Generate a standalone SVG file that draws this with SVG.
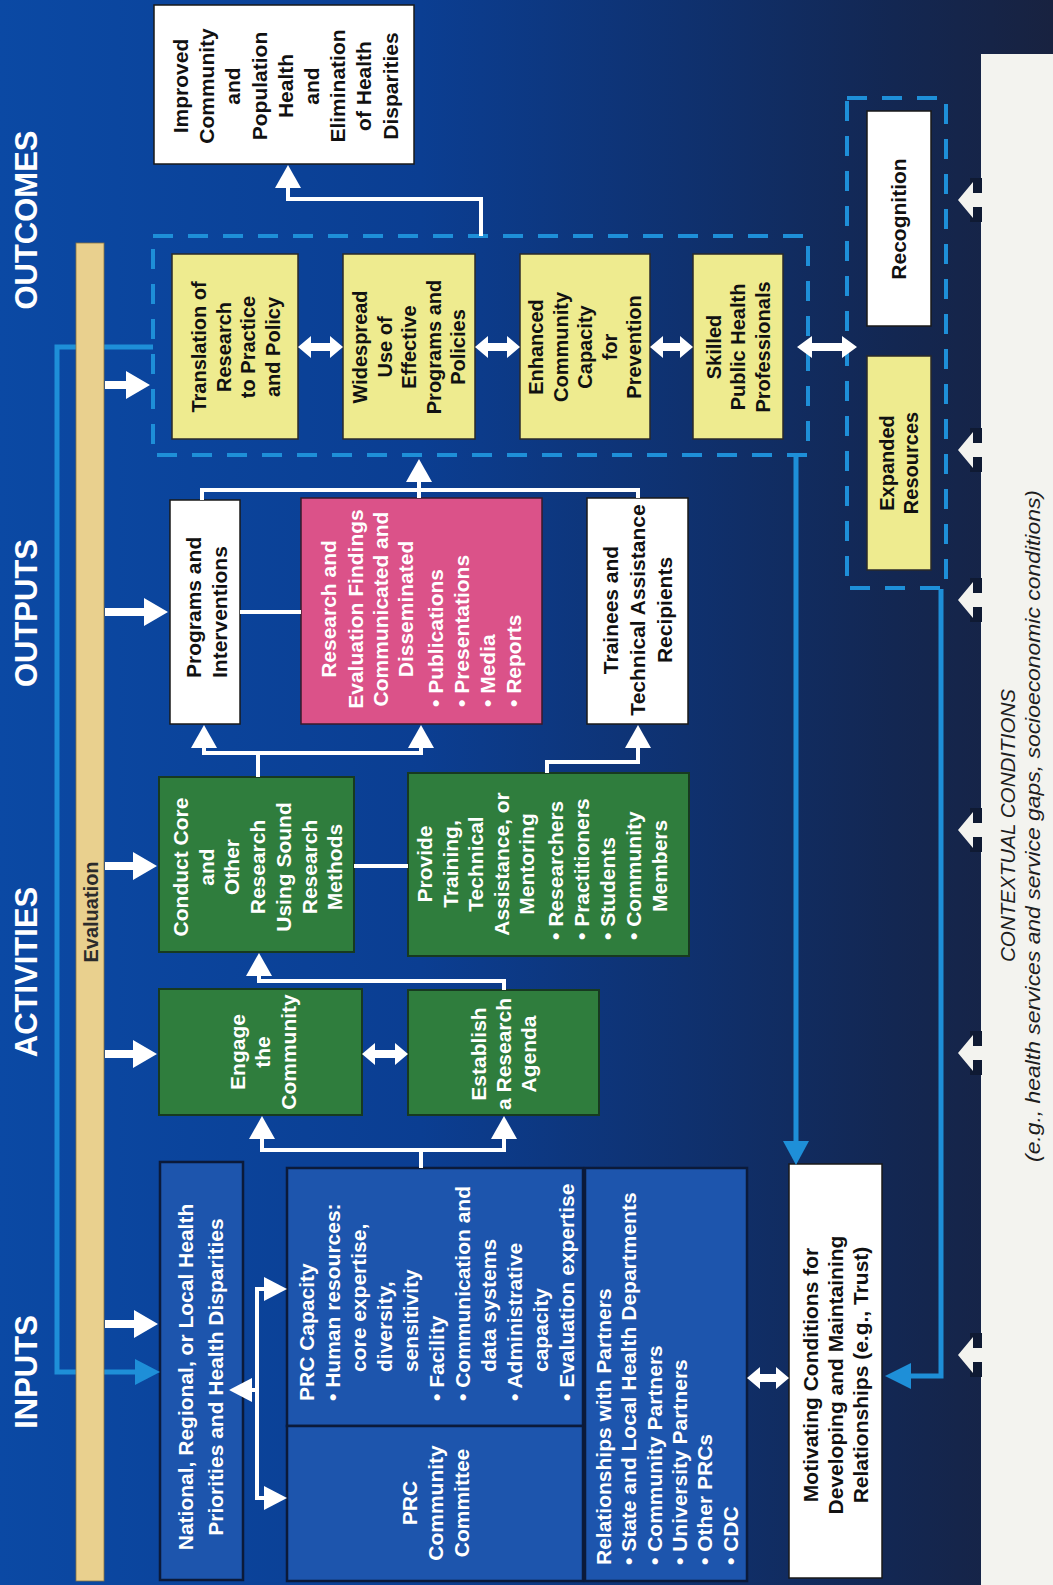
<svg xmlns="http://www.w3.org/2000/svg" width="1053" height="1585" viewBox="0 0 1053 1585">
<defs>
<linearGradient id="bg" x1="0" y1="0" x2="1" y2="0">
<stop offset="0" stop-color="#0b49a4"/>
<stop offset="0.4" stop-color="#0b3e92"/>
<stop offset="0.65" stop-color="#0f316f"/>
<stop offset="0.85" stop-color="#132752"/>
<stop offset="1" stop-color="#182240"/>
</linearGradient>
<style>
.b{font-family:"Liberation Sans",Arial,Helvetica,sans-serif;font-weight:bold;font-size:21px}
.s20{font-size:20px}
.w{fill:#fff}
.k{fill:#111}
.h{font-family:"Liberation Sans",Arial,sans-serif;font-weight:bold;font-size:31px;fill:#fff}
.wb{fill:#fff;stroke:#1a1a1a;stroke-width:1.5}
.yb{fill:#eeeb8f;stroke:#2a2a2a;stroke-width:1.5}
.gb{fill:#2f7d3d;stroke:#173a20;stroke-width:2}
.ib{fill:#1d55ad;stroke:#0b1a3a;stroke-width:2.5}
.pb{fill:#db5289;stroke:#3a1a2a;stroke-width:1.5}
.dash{fill:none;stroke:#1e8fd8;stroke-width:4;stroke-dasharray:20 15}
.ln{fill:none;stroke:#fff;stroke-width:4}
.bl{fill:none;stroke:#1e8fd8;stroke-width:5}
.ah{fill:#fff}
.bah{fill:#1e8fd8}
.ctx{font-family:"Liberation Sans",Arial,sans-serif;font-style:italic;font-size:21px;fill:#1e1e1e}
</style>
</defs>
<rect x="0" y="0" width="1053" height="1585" fill="url(#bg)"/>

<g id="headers">
<text class="h" text-anchor="middle" transform="translate(0,220) rotate(-90)" x="0" y="37">OUTCOMES</text>
<text class="h" text-anchor="middle" transform="translate(0,613) rotate(-90)" x="0" y="37">OUTPUTS</text>
<text class="h" text-anchor="middle" transform="translate(0,972) rotate(-90)" x="0" y="37">ACTIVITIES</text>
<text class="h" text-anchor="middle" transform="translate(0,1372) rotate(-90)" x="0" y="37">INPUTS</text>
</g>

<g id="context">
<rect x="981" y="54" width="72" height="1531" fill="#f3f3ef"/>
<g fill="#0f1a33">
<rect x="970" y="178" width="12" height="44"/>
<rect x="970" y="428" width="12" height="44"/>
<rect x="970" y="578" width="12" height="44"/>
<rect x="970" y="808" width="12" height="44"/>
<rect x="970" y="1031" width="12" height="44"/>
<rect x="970" y="1333" width="12" height="44"/>
</g>
<g fill="#f3f3ef">
<polygon points="958,200 973,182 973,193 983,193 983,207 973,207 973,218"/>
<polygon points="958,450 973,432 973,443 983,443 983,457 973,457 973,468"/>
<polygon points="958,600 973,582 973,593 983,593 983,607 973,607 973,618"/>
<polygon points="958,830 973,812 973,823 983,823 983,837 973,837 973,848"/>
<polygon points="958,1053 973,1035 973,1046 983,1046 983,1060 973,1060 973,1071"/>
<polygon points="958,1355 973,1337 973,1348 983,1348 983,1362 973,1362 973,1373"/>
</g>
<text class="ctx" transform="translate(0,826) rotate(-90)" x="-136" y="1015" textLength="273" lengthAdjust="spacingAndGlyphs">CONTEXTUAL CONDITIONS</text>
<text class="ctx" transform="translate(0,826) rotate(-90)" x="-336" y="1040" textLength="672" lengthAdjust="spacingAndGlyphs">(e.g., health services and service gaps, socioeconomic conditions)</text>
</g>

<g id="outcomes-box">
<rect class="dash" x="153" y="236" width="655" height="219"/>
</g>
<g id="outer-box">
<rect class="dash" x="847" y="98" width="99" height="490"/>
</g>

<g id="improved">
<rect class="wb" x="154" y="5" width="260" height="159"/>
<text class="b k" text-anchor="middle" transform="translate(0,86) rotate(-90)">
<tspan x="0" y="188">Improved</tspan><tspan x="0" y="214">Community</tspan><tspan x="0" y="240">and</tspan><tspan x="0" y="267">Population</tspan><tspan x="0" y="293">Health</tspan><tspan x="0" y="319">and</tspan><tspan x="0" y="345">Elimination</tspan><tspan x="0" y="371">of Health</tspan><tspan x="0" y="398">Disparities</tspan>
</text>
</g>

<g id="translation">
<rect class="yb" x="172" y="254" width="126" height="185"/>
<text class="b s20 k" text-anchor="middle" transform="translate(0,347) rotate(-90)">
<tspan x="0" y="206">Translation of</tspan><tspan x="0" y="230.5">Research</tspan><tspan x="0" y="255">to Practice</tspan><tspan x="0" y="279.5">and Policy</tspan>
</text>
</g>
<g id="widespread">
<rect class="yb" x="343" y="254" width="132" height="185"/>
<text class="b s20 k" text-anchor="middle" transform="translate(0,347) rotate(-90)">
<tspan x="0" y="367">Widespread</tspan><tspan x="0" y="391.5">Use of</tspan><tspan x="0" y="416">Effective</tspan><tspan x="0" y="440.5">Programs and</tspan><tspan x="0" y="465">Policies</tspan>
</text>
</g>
<g id="enhanced">
<rect class="yb" x="520" y="254" width="130" height="185"/>
<text class="b s20 k" text-anchor="middle" transform="translate(0,347) rotate(-90)">
<tspan x="0" y="543">Enhanced</tspan><tspan x="0" y="567.5">Community</tspan><tspan x="0" y="592">Capacity</tspan><tspan x="0" y="616.5">for</tspan><tspan x="0" y="641">Prevention</tspan>
</text>
</g>
<g id="skilled">
<rect class="yb" x="693" y="254" width="90" height="185"/>
<text class="b s20 k" text-anchor="middle" transform="translate(0,347) rotate(-90)">
<tspan x="0" y="720.5">Skilled</tspan><tspan x="0" y="745">Public Health</tspan><tspan x="0" y="769.5">Professionals</tspan>
</text>
</g>

<g id="recognition">
<rect class="wb" x="867" y="111" width="64" height="215"/>
<text class="b k" text-anchor="middle" transform="translate(0,219) rotate(-90)" x="0" y="906">Recognition</text>
</g>
<g id="expanded">
<rect class="yb" x="867" y="356" width="64" height="214"/>
<text class="b s20 k" text-anchor="middle" transform="translate(0,463) rotate(-90)">
<tspan x="0" y="894">Expanded</tspan><tspan x="0" y="918">Resources</tspan>
</text>
</g>

<g id="programs">
<rect class="wb" x="170" y="500" width="70" height="224"/>
<text class="b k" transform="translate(0,678) rotate(-90)">
<tspan x="0" y="201">Programs and</tspan><tspan x="0" y="227">Interventions</tspan>
</text>
</g>
<g id="research-findings">
<rect class="pb" x="301" y="498" width="241" height="226"/>
<text class="b w" text-anchor="middle" transform="translate(0,609) rotate(-90)">
<tspan x="0" y="336">Research and</tspan><tspan x="0" y="362.5">Evaluation Findings</tspan><tspan x="0" y="388">Communicated and</tspan><tspan x="0" y="413">Disseminated</tspan>
</text>
<text class="b w" transform="translate(0,707) rotate(-90)">
<tspan x="0" y="443">• Publications</tspan><tspan x="0" y="469">• Presentations</tspan><tspan x="0" y="495">• Media</tspan><tspan x="0" y="521">• Reports</tspan>
</text>
</g>
<g id="trainees">
<rect class="wb" x="587" y="498" width="101" height="226"/>
<text class="b k" text-anchor="middle" transform="translate(0,610) rotate(-90)">
<tspan x="0" y="618">Trainees and</tspan><tspan x="0" y="645">Technical Assistance</tspan><tspan x="0" y="672">Recipients</tspan>
</text>
</g>

<g id="conduct">
<rect class="gb" x="159" y="777" width="195" height="175"/>
<text class="b w" text-anchor="middle" transform="translate(0,867) rotate(-90)">
<tspan x="0" y="188">Conduct Core</tspan><tspan x="0" y="213.7">and</tspan><tspan x="0" y="239.4">Other</tspan><tspan x="0" y="265.1">Research</tspan><tspan x="0" y="290.8">Using Sound</tspan><tspan x="0" y="316.5">Research</tspan><tspan x="0" y="342.2">Methods</tspan>
</text>
</g>
<g id="provide">
<rect class="gb" x="408" y="773" width="281" height="183"/>
<text class="b w" text-anchor="middle" transform="translate(0,864) rotate(-90)">
<tspan x="0" y="432">Provide</tspan><tspan x="0" y="457.5">Training,</tspan><tspan x="0" y="483">Technical</tspan><tspan x="0" y="508.5">Assistance, or</tspan><tspan x="0" y="534">Mentoring</tspan>
</text>
<text class="b w" transform="translate(0,940) rotate(-90)">
<tspan x="0" y="563">• Researchers</tspan><tspan x="0" y="589">• Practitioners</tspan><tspan x="0" y="615">• Students</tspan><tspan x="0" y="641">• Community</tspan><tspan x="28" y="667">Members</tspan>
</text>
</g>
<g id="engage">
<rect class="gb" x="159" y="989" width="203" height="126"/>
<text class="b w" text-anchor="middle" transform="translate(0,1052) rotate(-90)">
<tspan x="0" y="245">Engage</tspan><tspan x="0" y="270">the</tspan><tspan x="0" y="296">Community</tspan>
</text>
</g>
<g id="establish">
<rect class="gb" x="408" y="990" width="191" height="125"/>
<text class="b w" text-anchor="middle" transform="translate(0,1054) rotate(-90)">
<tspan x="0" y="486">Establish</tspan><tspan x="0" y="511">a Research</tspan><tspan x="0" y="536">Agenda</tspan>
</text>
</g>

<g id="national">
<rect class="ib" x="160" y="1162" width="83" height="418"/>
<text class="b w" text-anchor="middle" transform="translate(0,1377) rotate(-90)">
<tspan x="0" y="193">National, Regional, or Local Health</tspan><tspan x="0" y="223">Priorities and Health Disparities</tspan>
</text>
</g>
<g id="prc-capacity">
<rect class="ib" x="287" y="1168" width="296" height="258"/>
<text class="b w" transform="translate(0,1401) rotate(-90)">
<tspan x="0" y="314">PRC Capacity</tspan><tspan x="0" y="340">• Human resources:</tspan><tspan x="29" y="366">core expertise,</tspan><tspan x="29" y="392">diversity,</tspan><tspan x="29" y="418">sensitivity</tspan><tspan x="0" y="444">• Facility</tspan><tspan x="0" y="470">• Communication and</tspan><tspan x="29" y="496">data systems</tspan><tspan x="0" y="522">• Administrative</tspan><tspan x="29" y="548">capacity</tspan><tspan x="0" y="574">• Evaluation expertise</tspan>
</text>
</g>
<g id="prc-committee">
<rect class="ib" x="287" y="1426" width="296" height="155"/>
<text class="b w" text-anchor="middle" transform="translate(0,1503) rotate(-90)">
<tspan x="0" y="417">PRC</tspan><tspan x="0" y="443">Community</tspan><tspan x="0" y="469">Committee</tspan>
</text>
</g>
<g id="relationships">
<rect class="ib" x="585" y="1168" width="162" height="413"/>
<text class="b w" transform="translate(0,1565) rotate(-90)">
<tspan x="0" y="611">Relationships with Partners</tspan><tspan x="0" y="636">• State and Local Health Departments</tspan><tspan x="0" y="662">• Community Partners</tspan><tspan x="0" y="687">• University Partners</tspan><tspan x="0" y="712">• Other PRCs</tspan><tspan x="0" y="738">• CDC</tspan>
</text>
</g>
<g id="motivating">
<rect class="wb" x="789" y="1164" width="93" height="414"/>
<text class="b k" text-anchor="middle" transform="translate(0,1375) rotate(-90)">
<tspan x="0" y="818">Motivating Conditions for</tspan><tspan x="0" y="843">Developing and Maintaining</tspan><tspan x="0" y="868">Relationships (e.g., Trust)</tspan>
</text>
</g>

<g id="connectors">
<polyline class="ln" points="481,236 481,199 288,199 288,186"/>
<polygon class="ah" points="288,165 275,188 301,188"/>
<polygon class="ah" points="298,347 311,336 311,343 330,343 330,336 343,347 330,358 330,351 311,351 311,358"/>
<polygon class="ah" points="475,347 488,336 488,343 507,343 507,336 520,347 507,358 507,351 488,351 488,358"/>
<polygon class="ah" points="650,347 663,336 663,343 680,343 680,336 693,347 680,358 680,351 663,351 663,358"/>
<polygon class="ah" points="797,347 812,336 812,343 842,343 842,336 857,347 842,358 842,351 812,351 812,358"/>
<polyline class="ln" points="202,500 202,490 638,490 638,498"/>
<line class="ln" x1="419" y1="498" x2="419" y2="480"/>
<polygon class="ah" points="419,459 406,482 432,482"/>
<line class="ln" x1="240" y1="612" x2="301" y2="612"/>
<line class="ln" x1="258" y1="777" x2="258" y2="753"/>
<polyline class="ln" points="204,746 204,753 421,753 421,746"/>
<polygon class="ah" points="204,725 191,748 217,748"/>
<polygon class="ah" points="421,725 408,748 434,748"/>
<polyline class="ln" points="547,773 547,762 638,762 638,746"/>
<polygon class="ah" points="638,725 625,748 651,748"/>
<line class="ln" x1="354" y1="866" x2="408" y2="866"/>
<polyline class="ln" points="504,990 504,981 259,981 259,974"/>
<polygon class="ah" points="259,953 246,976 272,976"/>
<polygon class="ah" points="362,1054 375,1043 375,1050 395,1050 395,1043 408,1054 395,1065 395,1058 375,1058 375,1065"/>
<line class="ln" x1="421" y1="1168" x2="421" y2="1150"/>
<polyline class="ln" points="262,1137 262,1150 504,1150 504,1137"/>
<polygon class="ah" points="262,1116 249,1139 275,1139"/>
<polygon class="ah" points="504,1116 491,1139 517,1139"/>
<line class="ln" x1="257" y1="1289" x2="257" y2="1498"/>
<line class="ln" x1="255" y1="1289" x2="266" y2="1289"/>
<polygon class="ah" points="287,1289 264,1277 264,1301"/>
<line class="ln" x1="255" y1="1498" x2="266" y2="1498"/>
<polygon class="ah" points="287,1498 264,1486 264,1510"/>
<line class="ln" x1="248" y1="1390" x2="259" y2="1390"/>
<polygon class="ah" points="229,1390 252,1378 252,1402"/>
<polygon class="ah" points="747,1378 760,1367 760,1374 776,1374 776,1367 789,1378 776,1389 776,1382 760,1382 760,1389"/>
<line class="bl" x1="796" y1="456" x2="796" y2="1145"/>
<polygon class="bah" points="796,1165 783,1141 809,1141"/>
<polyline class="bl" points="941,589 941,1376 910,1376"/>
<polygon class="bah" points="885,1376 911,1363 911,1389"/>
<polyline class="bl" points="153,347 57,347 57,1372 138,1372"/>
<polygon class="bah" points="160,1372 135,1359 135,1385"/>
<polygon class="ah" points="105,381 126,381 126,371 150,385 126,399 126,389 105,389"/>
<polygon class="ah" points="105,608 144,608 144,598 168,612 144,626 144,616 105,616"/>
<polygon class="ah" points="105,862 133,862 133,852 157,866 133,880 133,870 105,870"/>
<polygon class="ah" points="105,1050 133,1050 133,1040 157,1054 133,1068 133,1058 105,1058"/>
<polygon class="ah" points="105,1320 134,1320 134,1310 158,1324 134,1338 134,1328 105,1328"/>
</g>

<g id="evaluation">
<rect x="76" y="243" width="28" height="1338" fill="#e9d08e" stroke="#8a7440" stroke-width="0.8"/>
<text class="b s20" fill="#2b2b2b" text-anchor="middle" transform="translate(0,912) rotate(-90)" x="0" y="98">Evaluation</text>
</g>
</svg>
